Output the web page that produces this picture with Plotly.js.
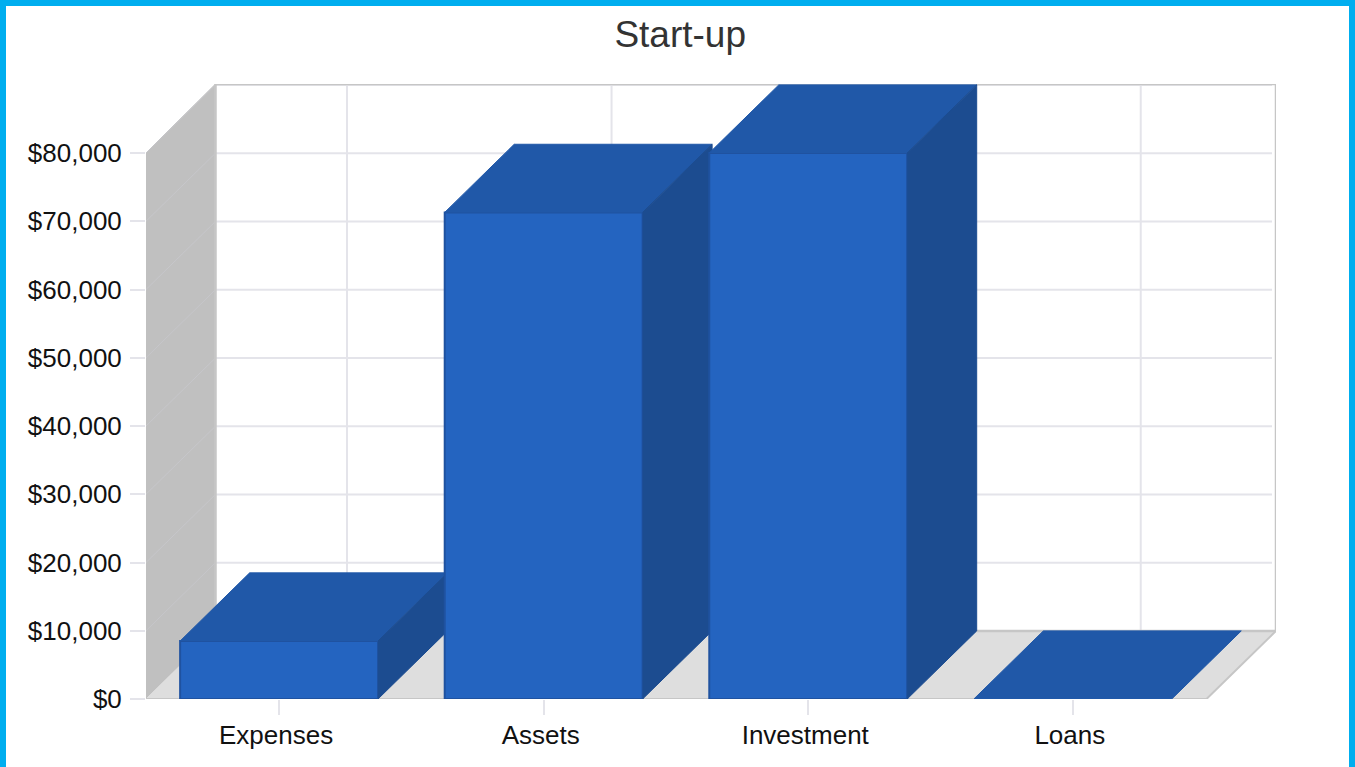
<!DOCTYPE html>
<html>
<head>
<meta charset="utf-8">
<script src="https://cdn.plot.ly/plotly-3.0.1.min.js"></script>
<style>
html,body{margin:0;padding:0;background:#fff;overflow:hidden}
#chart{position:absolute;left:0;top:0;width:1355px;height:767px}
#frame{position:absolute;left:0;top:0;width:1355px;height:767px;box-sizing:border-box;border:6px solid #00AEEF;border-bottom:0;pointer-events:none}
</style>
</head>
<body>
<div id="chart"></div>
<div id="frame"></div>
<script>
const chartTitle = "Start-up";
const categories = ["Expenses", "Assets", "Investment", "Loans"];
const values = [8500, 71300, 80000, 0];
const yTicks = [0, 10000, 20000, 30000, 40000, 50000, 60000, 70000, 80000];

const depthX = 0.2627, depthY = 9980, halfBar = 0.374, gridNudge = 0.006;
const xMin = -0.503, xMax = 3.768, yMax = 90110;
const floorRight = xMax - depthX;
const C = {front:"#2464C0", top:"#2058A8", side:"#1C4C90", edge:"#1F52A0",
           wall:"#C0C0C0", floor:"#DEDEDE", frame:"#C6C6C6", grid:"#E4E4EA", slant:"#C6C6CA"};

function poly(xs, ys, fill, axes){
  return Object.assign({type:"scatter", mode:"lines", x:xs, y:ys, fill:"toself", fillcolor:fill,
    line:{color:fill, width:1}, hoverinfo:"skip", showlegend:false, cliponaxis:false}, axes||{});
}
function line(xs, ys, color, width){
  return {type:"scatter", mode:"lines", x:xs, y:ys, line:{color:color, width:width},
    hoverinfo:"skip", showlegend:false, cliponaxis:false};
}

const traces = [];
// Room on the base axes: side wall, floor, grid lines, frame
traces.push(poly([xMin, xMin+depthX, xMin+depthX, xMin],
                 [0, depthY, yMax, 80000], C.wall));
traces.push(poly([xMin, xMin+depthX, xMax, floorRight],
                 [0, depthY, depthY, 0], C.floor));
yTicks.forEach(t => {
  if (t > 0) traces.push(line([xMin+depthX, xMax-0.015], [t+depthY, t+depthY], C.grid, 2));
  if (t > 0) traces.push(line([xMin, xMin+depthX], [t, t+depthY], C.slant, 1));
});
categories.forEach((c, i) => {
  const gx = i + depthX - gridNudge;
  traces.push(line([gx, gx], [depthY, yMax], C.grid, 2));
});
traces.push(line([xMin+depthX, xMin+depthX, xMax, xMax, xMin+depthX],
                 [depthY, yMax, yMax, depthY, depthY], C.frame, 2.5));
traces.push(line([xMin, floorRight, xMax], [0, 0, depthY], C.frame, 2));

// One overlaid subplot per column, so columns paint left to right above the room
const layoutAxes = {};
categories.forEach((c, i) => {
  const n = i + 2;
  const axes = {xaxis:"x"+n, yaxis:"y"+n};
  const v = values[i], l = i-halfBar, r = i+halfBar;
  traces.push(Object.assign({type:"bar", x:[i], y:[v], width:[2*halfBar], name:c,
    marker:{color:C.front, line:{color:C.edge, width:v>0?2:0}},
    hovertemplate:"%{y:$,.0f}<extra>"+c+"</extra>", showlegend:false, cliponaxis:false}, axes));
  traces.push(poly([l, l+depthX, r+depthX, r], [v, v+depthY, v+depthY, v], C.top, axes));
  if (v > 0) traces.push(poly([r, r+depthX, r+depthX, r], [0, depthY, v+depthY, v], C.side, axes));
  layoutAxes["xaxis"+n] = {overlaying:"x", range:[xMin,xMax], visible:false, fixedrange:true};
  layoutAxes["yaxis"+n] = {overlaying:"y", range:[0,yMax], visible:false, fixedrange:true};
});

const layout = Object.assign({
  width:1355, height:767, autosize:false,
  margin:{l:146, r:79, t:84, b:68, pad:0},
  paper_bgcolor:"#FFFFFF", plot_bgcolor:"#FFFFFF",
  font:{family:"Liberation Sans, Arial, sans-serif", color:"#111111"},
  title:{text:chartTitle, font:{size:37, color:"#333333"}, x:0.502, xref:"container", xanchor:"center", y:0.955, yanchor:"middle"},
  showlegend:false, barmode:"overlay",
  xaxis:{range:[xMin,xMax], tickmode:"array", tickvals:categories.map((c,i)=>i), ticktext:categories,
    ticks:"outside", ticklen:15, tickwidth:2, tickcolor:C.grid, showgrid:false, zeroline:false, showline:false,
    tickfont:{size:26}, ticklabelstandoff:-2, ticklabelshift:-3, fixedrange:true},
  yaxis:{range:[0,yMax], tickmode:"array", tickvals:yTicks, ticktext:yTicks.map(t=>"$"+t.toLocaleString("en-US")),
    ticks:"outside", ticklen:15, tickwidth:2, tickcolor:C.grid, showgrid:false, zeroline:false, showline:false,
    tickfont:{size:26}, ticklabelstandoff:3, fixedrange:true}
}, layoutAxes);

Plotly.newPlot("chart", traces, layout, {displayModeBar:false});
</script>
</body>
</html>
